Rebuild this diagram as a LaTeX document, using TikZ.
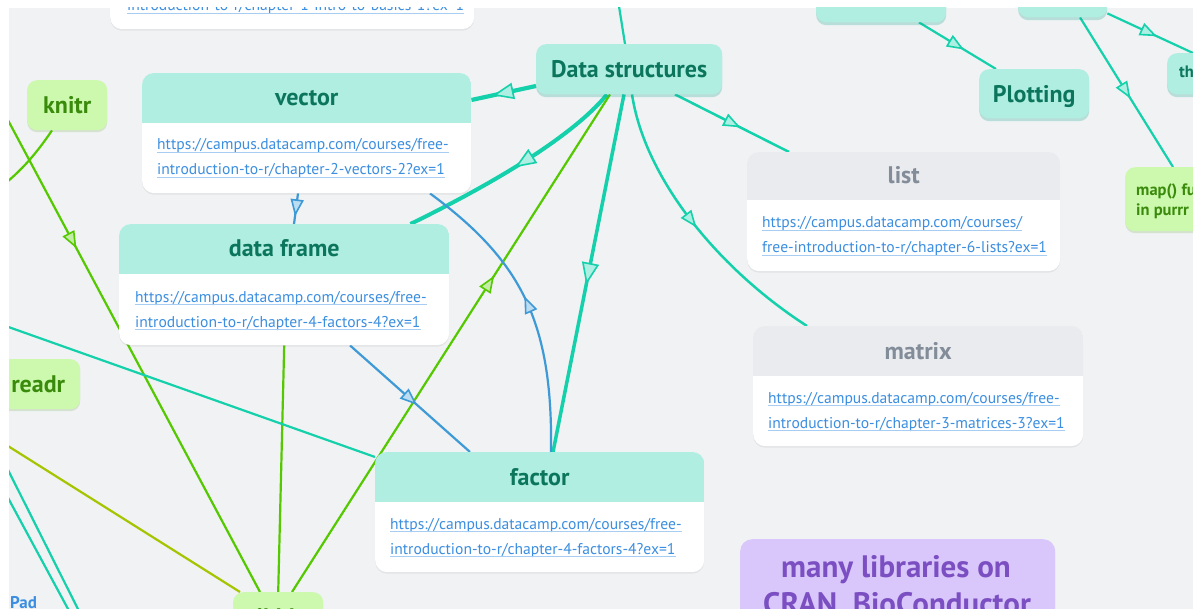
\documentclass[tikz,border=0pt]{standalone}
\usepackage{fontspec}
\setmainfont{PT Sans}
\usetikzlibrary{calc,decorations.markings,shadows}
\definecolor{canvas}{HTML}{F0F2F4}
\definecolor{mint}{HTML}{B0EEE2}
\definecolor{minttxt}{HTML}{0C765C}
\definecolor{tealL}{HTML}{14D0AB}
\definecolor{greenL}{HTML}{55C900}
\definecolor{oliveL}{HTML}{A6C400}
\definecolor{blueL}{HTML}{3E9AD6}
\definecolor{gnode}{HTML}{CCF9AD}
\definecolor{gtxt}{HTML}{3A8A0C}
\definecolor{grayhead}{HTML}{E9EBEE}
\definecolor{graytxt}{HTML}{838C99}
\definecolor{urlc}{HTML}{3B8EE0}
\definecolor{urlu}{HTML}{A8CDF2}
\definecolor{purp}{HTML}{D9C7FB}
\definecolor{purptxt}{HTML}{7B4FC2}
\pgfdeclarelayer{back}
\pgfdeclarelayer{lines}
\pgfsetlayers{back,lines,main}
\newcommand{\ttl}{\fontsize{24}{28}\selectfont\bfseries}
\newcommand{\urlf}{\fontsize{15.6}{18}\selectfont}
\newcommand{\smallb}{\fontsize{16.5}{19}\selectfont\bfseries}
\newcommand{\mytri}[2]{\draw[#1, line width=1.6pt, fill=#1!35, line join=miter] (#2pt,0pt) -- (-#2pt,0.8*#2pt) -- (-#2pt,-0.8*#2pt) -- cycle;}
\newcommand{\cardhead}[3]{%
  \begin{scope}
    \clip[rounded corners=12pt] (#1.north west) rectangle (#1.south east);
    \fill[#2] (#1.north west) rectangle ([yshift=-#3pt]#1.north east);
  \end{scope}}
\newcommand{\urlline}[3]{%
  \node[urltxt, anchor=base west] (#1) at (#2) {#3};
  \draw[urlu, line width=1pt] ([yshift=-2.5pt]#1.base west) -- ([yshift=-2.5pt]#1.base east);}
\tikzset{
  ma/.style n args={3}{postaction={decorate}, decoration={markings, mark=at position #1 with {\mytri{#2}{#3}}}},
  card/.style={anchor=north west, fill=white, rounded corners=12pt, inner sep=0pt,
    drop shadow={shadow xshift=0pt, shadow yshift=-1.5pt, opacity=0.10, fill=black!60}},
  mintnode/.style={anchor=north west, fill=mint, text=minttxt, rounded corners=10pt, inner sep=0pt,
    font=\ttl, text height=17pt, text depth=0pt,
    drop shadow={shadow xshift=0pt, shadow yshift=-3pt, opacity=0.25, fill=tealL!80!black}},
  greennode/.style={anchor=north west, fill=gnode, text=gtxt, rounded corners=10pt, inner sep=0pt,
    font=\ttl, text height=17pt, text depth=0pt,
    drop shadow={shadow xshift=0pt, shadow yshift=-2pt, opacity=0.15, fill=greenL!70!black}},
  pnode/.style={anchor=north west, fill=purp, rounded corners=12pt, inner sep=0pt,
    drop shadow={shadow xshift=0pt, shadow yshift=-2pt, opacity=0.12, fill=purptxt}},
  urltxt/.style={text=urlc, font=\urlf, inner sep=0pt},
  mtitle/.style={anchor=base, text=minttxt, font=\ttl, inner sep=0pt},
  gtitle/.style={anchor=base, text=graytxt, font=\ttl, inner sep=0pt},
  tline/.style={draw=tealL, line width=2.2pt},
  gline/.style={draw=greenL, line width=2.2pt},
  oline/.style={draw=oliveL, line width=2.2pt},
  bline/.style={draw=blueL, line width=2.2pt},
}
\begin{document}
\begin{tikzpicture}[x=1pt,y=-1pt]
\begin{pgfonlayer}{back}
\fill[white] (0,0) rectangle (1193,609);
\fill[canvas] (9,8) rectangle (1193,609);
\end{pgfonlayer}

\begin{scope}
\clip (9,8) rectangle (1193,609);
% top-left partial card
\node[card, minimum width=364pt, minimum height=60pt] (basics) at (110,-31) {};
\urlline{u0}{$(basics.north west)+(17,42)$}{introduction-to-r/chapter-1-intro-to-basics-1?ex=1}

% vector card
\node[card, minimum width=329pt, minimum height=120pt] (vec) at (142,73) {};
\cardhead{vec}{mint}{50}
\node[mtitle] (vect) at ($(vec.north)+(0,33)$) {vector};
\urlline{vu1}{$(vec.north west)+(15,77)$}{https://campus.datacamp.com/courses/free-}
\urlline{vu2}{$(vec.north west)+(15,102)$}{introduction-to-r/chapter-2-vectors-2?ex=1}

% data frame card
\node[card, minimum width=330pt, minimum height=121pt] (df) at (119,224) {};
\cardhead{df}{mint}{50}
\node[mtitle] (dft) at ($(df.north)+(0,33)$) {data frame};
\urlline{du1}{$(df.north west)+(16,78)$}{https://campus.datacamp.com/courses/free-}
\urlline{du2}{$(df.north west)+(16,103)$}{introduction-to-r/chapter-4-factors-4?ex=1}

% factor card
\node[card, minimum width=329pt, minimum height=120pt] (factor) at (375,452) {};
\cardhead{factor}{mint}{50}
\node[mtitle] (fact) at ($(factor.north)+(0,33)$) {factor};
\urlline{fu1}{$(factor.north west)+(15,77)$}{https://campus.datacamp.com/courses/free-}
\urlline{fu2}{$(factor.north west)+(15,102)$}{introduction-to-r/chapter-4-factors-4?ex=1}

% list card
\node[card, minimum width=313pt, minimum height=119pt] (list) at (747,152) {};
\cardhead{list}{grayhead}{48}
\node[gtitle] (listt) at ($(list.north)+(0,32)$) {list};
\urlline{lu1}{$(list.north west)+(15,76)$}{https://campus.datacamp.com/courses/}
\urlline{lu2}{$(list.north west)+(15,101)$}{free-introduction-to-r/chapter-6-lists?ex=1}

% matrix card
\node[card, minimum width=330pt, minimum height=120pt] (matrix) at (753,326) {};
\cardhead{matrix}{grayhead}{50}
\node[gtitle] (matt) at ($(matrix.north)+(0,33)$) {matrix};
\urlline{mu1}{$(matrix.north west)+(15,77)$}{https://campus.datacamp.com/courses/free-}
\urlline{mu2}{$(matrix.north west)+(15,102)$}{introduction-to-r/chapter-3-matrices-3?ex=1}

% small nodes
\node[mintnode, minimum width=186pt, minimum height=50pt] (ds) at (536,44) {Data structures};
\node[mintnode, minimum width=110pt, minimum height=49pt] (plot) at (979,69) {Plotting};
\node[mintnode, minimum width=130pt, minimum height=49pt] (tn1) at (816,-27) {};
\node[mintnode, minimum width=89pt, minimum height=49pt] (tn2) at (1018,-32) {};
\node[mintnode, minimum width=80pt, minimum height=41pt] (th) at (1167,53) {};
\node[anchor=base west, text=minttxt, font=\smallb, inner sep=0pt] (thtxt) at (1179,78) {th};

\node[greennode, minimum width=80pt, minimum height=50pt] (knitr) at (27,80) {knitr};
\node[greennode, minimum width=84pt, minimum height=50pt] (readr) at (-4,359) {readr};
\node[greennode, minimum width=90pt, minimum height=50pt] (tibble) at (233,592) {tibble};
\node[greennode, minimum width=90pt, minimum height=64pt] (map) at (1125,167) {};
\node[anchor=base west, text=gtxt, font=\smallb, inner sep=0pt] (map1) at (1136,196) {map() fu};
\node[anchor=base west, text=gtxt, font=\smallb, inner sep=0pt] (map2) at (1136,216) {in purrr};

\node[pnode, minimum width=315pt, minimum height=100pt] (libs) at (740,539) {};
\node[anchor=base, text=purptxt, font=\fontsize{31}{36}\selectfont\bfseries, inner sep=0pt] (lib1) at (896,577) {many libraries on};
\node[anchor=base, text=purptxt, font=\fontsize{31}{36}\selectfont\bfseries, inner sep=0pt] (lib2) at (900,614) {CRAN, BioConductor,};

\node[anchor=base west, text=urlc, font=\fontsize{17}{20}\selectfont\bfseries, inner sep=0pt] (pad) at (10,608) {Pad};
\end{scope}

\begin{pgfonlayer}{lines}
\begin{scope}
\clip (9,8) rectangle (1193,609);
\coordinate (topA) at (618,0);
\coordinate (gA) at (1.5,108);
\coordinate (kA) at (2,186);
\coordinate (oA) at (0,441);
\coordinate (lA) at (0,324);
\coordinate (bA) at (0,454);
\coordinate (bA2) at (84,621);
\coordinate (bB) at (0,483);
\coordinate (bB2) at (74,620);

\draw[tline] (topA) -- ([xshift=89pt]ds.north west);
\draw[tline, line width=4.2pt, ma={0.5}{tealL}{9}] ([yshift=-42pt]ds.north west) -- ([yshift=-27pt]vec.north east);
\draw[tline, line width=4pt, ma={0.45}{tealL}{9}] ([xshift=71pt]ds.south west) .. controls (570,140) and (480,190) .. ([xshift=-39pt]df.north east);
\draw[tline, line width=3.5pt, ma={0.5}{tealL}{9.5}] ([xshift=88pt]ds.south west) -- ([xshift=178pt]factor.north west);
\draw[tline, line width=2.5pt, ma={0.5}{tealL}{7}] ([xshift=139pt]ds.south west) -- ([xshift=42pt]list.north west);
\draw[tline, line width=2.5pt, ma={0.47}{tealL}{7}] ([xshift=96pt]ds.south west) .. controls (645,180) and (720,270) .. ([xshift=54pt]matrix.north west);
\draw[gline, ma={0.62}{greenL}{7}] ([xshift=59pt]tibble.north west) -- ([xshift=74pt]ds.south west);
\draw[gline, ma={0.273}{greenL}{7}] (gA) -- ([xshift=27pt]tibble.north west);
\draw[gline] ([xshift=25pt]knitr.south west) .. controls (40,148) and (25,168) .. (kA);
\draw[gline] (df.south) -- (tibble.north);
\draw[oline] (oA) -- ([xshift=7pt]tibble.north west);
\draw[tline] (lA) -- ([yshift=-5pt]factor.north west);
\draw[tline] (bA) -- (bA2);
\draw[tline] (bB) -- (bB2);
\draw[bline, ma={0.45}{blueL}{7}] ([xshift=156pt]vec.south west) -- ([xshift=175pt]df.north west);
\draw[bline, ma={0.5}{blueL}{7}] ([xshift=176pt]factor.north west) .. controls (553,320) and (520,260) .. ([xshift=288pt]vec.south west);
\draw[bline, ma={0.5}{blueL}{7}] ([xshift=231pt]df.south west) -- ([xshift=95pt]factor.north west);
\draw[tline, ma={0.48}{tealL}{7}] ([xshift=103pt]tn1.south west) -- ([xshift=17pt]plot.north west);
\draw[tline, ma={0.48}{tealL}{7}] ([yshift=4pt]tn2.south east) -- ([xshift=26pt]th.north west);
\draw[tline, ma={0.49}{tealL}{7}] ([xshift=62pt]tn2.south west) -- ([xshift=48pt]map.north west);
\end{scope}
\end{pgfonlayer}

\pgfresetboundingbox
\useasboundingbox (0,0) rectangle (1193,609);
\end{tikzpicture}
\end{document}
